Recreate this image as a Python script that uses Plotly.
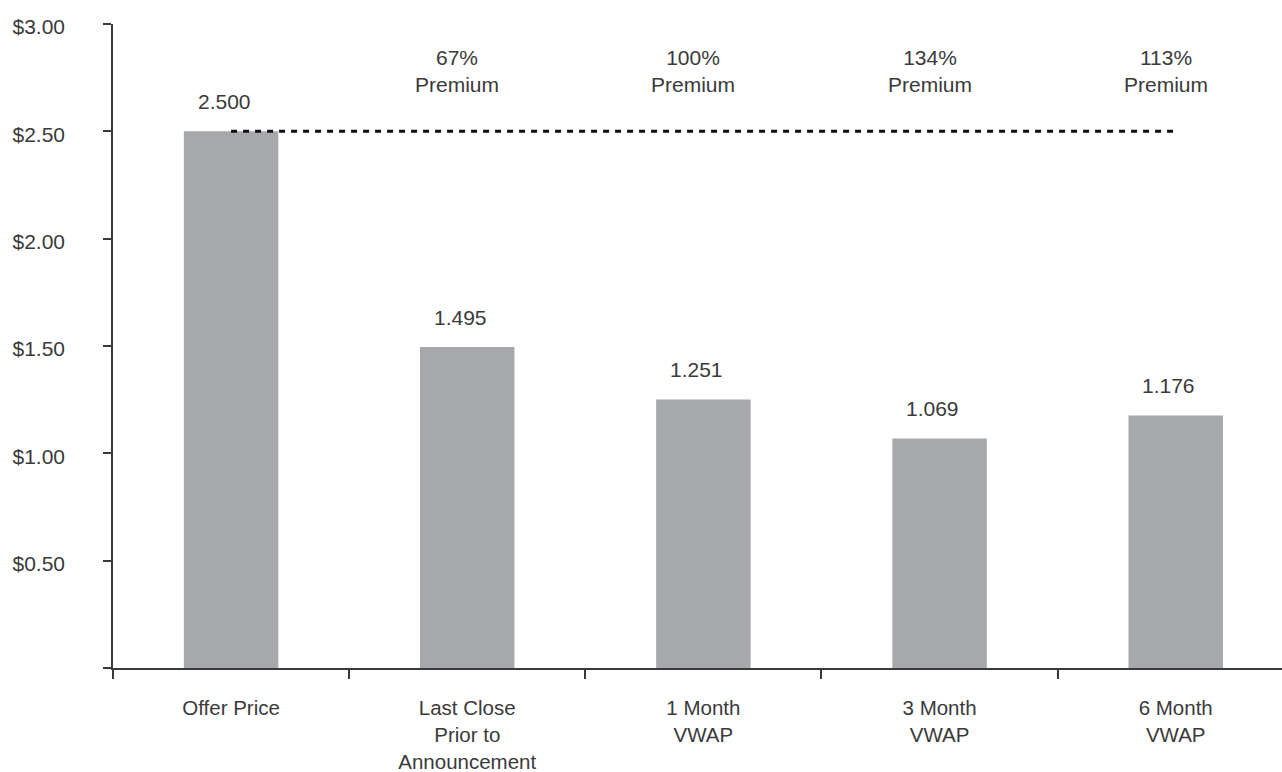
import plotly.graph_objects as go

# Share price benchmarks
categories = ["Offer Price", "Last Close<br>Prior to<br>Announcement", "1 Month<br>VWAP",
              "3 Month<br>VWAP", "6 Month<br>VWAP"]
prices = [2.500, 1.495, 1.251, 1.069, 1.176]
value_labels = ["2.500", "1.495", "1.251", "1.069", "1.176"]
premium_labels = ["67%", "100%", "134%", "113%"]

y_tickvals = [0, 0.5, 1.0, 1.5, 2.0, 2.5, 3.0]
y_ticktext = ["", "$0.50", "$1.00", "$1.50", "$2.00", "$2.50", "$3.00"]

FONT = "Liberation Sans, Arial, sans-serif"
TEXT = "#3a3a3a"
AXIS = "#3a3a3a"

fig = go.Figure()

fig.add_trace(go.Bar(
    x=categories, y=prices, width=0.4,
    marker=dict(color="#a7a8ab", line=dict(width=0)),
    hoverinfo="skip", showlegend=False,
))

# Offer price reference line across the benchmarks
fig.add_trace(go.Scatter(
    x=[categories[0], categories[-1]], y=[prices[0], prices[0]],
    mode="lines", line=dict(color="#111111", width=3, dash="6px,6px"),
    hoverinfo="skip", showlegend=False,
))

annotations = []
for cat, val, lab in zip(categories, prices, value_labels):
    annotations.append(dict(
        x=cat, y=val, xref="x", yref="y", text=lab, showarrow=False,
        yanchor="middle", yshift=30, xshift=-7,
        font=dict(family=FONT, size=21, color=TEXT),
    ))
for cat, lab in zip(categories[1:], premium_labels):
    annotations.append(dict(
        x=cat, y=2.78, xref="x", yref="y", text=f"{lab}<br>Premium", showarrow=False,
        yanchor="middle", xshift=-10,
        font=dict(family=FONT, size=21, color=TEXT),
    ))

fig.update_layout(
    width=1282, height=772,
    margin=dict(l=113, r=0, t=24, b=104),
    paper_bgcolor="white", plot_bgcolor="white",
    font=dict(family=FONT, size=21, color=TEXT),
    bargap=0.6,
    annotations=annotations,
    xaxis=dict(
        type="category", range=[-0.5, 4.45], automargin=False,
        showline=True, linecolor=AXIS, linewidth=1.5,
        ticks="outside", ticklen=9, tickcolor=AXIS, tickwidth=1.5,
        tickson="boundaries", showgrid=False, zeroline=False,
        ticklabelstandoff=21,
        tickfont=dict(family=FONT, size=20.5, color=TEXT),
    ),
    yaxis=dict(
        range=[0, 3.0], tickvals=y_tickvals, ticktext=y_ticktext, automargin=False,
        showline=True, linecolor=AXIS, linewidth=1.5,
        ticks="outside", ticklen=8, tickcolor=AXIS, tickwidth=1.5,
        showgrid=False, zeroline=False,
        ticklabelstandoff=34, ticklabelshift=3,
        tickfont=dict(family=FONT, size=21, color=TEXT),
    ),
)

fig.write_html("out.html")
